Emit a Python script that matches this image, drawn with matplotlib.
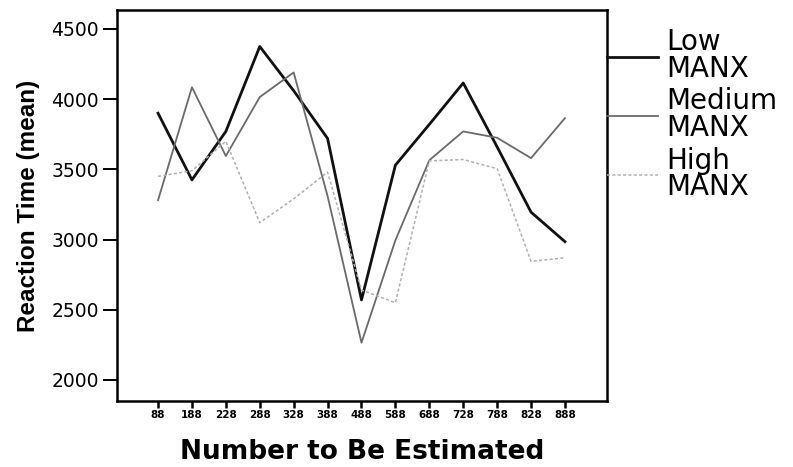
import matplotlib.pyplot as plt

# values
numbers = ['88', '188', '228', '288', '328', '388', '488', '588', '688', '728', '788', '828', '888']
low_manx = [3900, 3425, 3770, 4375, 4060, 3720, 2570, 3530, 3820, 4115, 3660, 3195, 2985]
medium_manx = [3280, 4085, 3595, 4015, 4190, 3310, 2265, 2995, 3565, 3770, 3725, 3580, 3865]
high_manx = [3450, 3490, 3700, 3120, 3290, 3480, 2640, 2550, 3560, 3570, 3505, 2845, 2870]

fig = plt.figure(figsize=(7.93, 4.67), dpi=100)
ax = fig.add_axes([117 / 793, 1 - 401 / 467, 490 / 793, 391 / 467])

x = list(range(len(numbers)))
ax.plot(x, low_manx, color='#111111', lw=2.0, label='Low\nMANX')
ax.plot(x, medium_manx, color='#6a6a6a', lw=1.3, label='Medium\nMANX')
ax.plot(x, high_manx, color='#b0b0b0', lw=1.1, ls=(0, (2, 1.5)), label='High\nMANX')

ax.set_xlim(-1.21, 13.24)
ax.set_ylim(1850, 4635)
ax.set_yticks([2000, 2500, 3000, 3500, 4000, 4500])
ax.set_xticks(x)
ax.set_xticklabels(numbers, fontsize=7.5, fontweight='bold', family='DejaVu Sans')
for lab in ax.get_yticklabels():
    lab.set_fontsize(13.5)
    lab.set_family('DejaVu Sans')

for s in ax.spines.values():
    s.set_linewidth(1.8)
ax.tick_params(axis='y', length=10, width=1.4, pad=3)
ax.tick_params(axis='x', length=5, width=1.8, pad=1.5)

ax.set_ylabel('Reaction Time (mean)', fontsize=17.5, fontweight='bold',
              family=['Liberation Sans Narrow', 'Liberation Sans'], labelpad=8)
ax.set_xlabel('Number to Be Estimated', fontsize=19, fontweight='bold',
              family='DejaVu Sans', labelpad=14)

leg = ax.legend(loc='upper left', bbox_to_anchor=(1.0, 0.953), frameon=False,
                borderaxespad=0, borderpad=0, handlelength=1.85, handletextpad=0.3,
                labelspacing=0.15, prop={'family': 'DejaVu Sans', 'size': 20})
for t in leg.get_texts():
    t.set_linespacing(0.95)

fig.savefig('out.png', dpi=100)
